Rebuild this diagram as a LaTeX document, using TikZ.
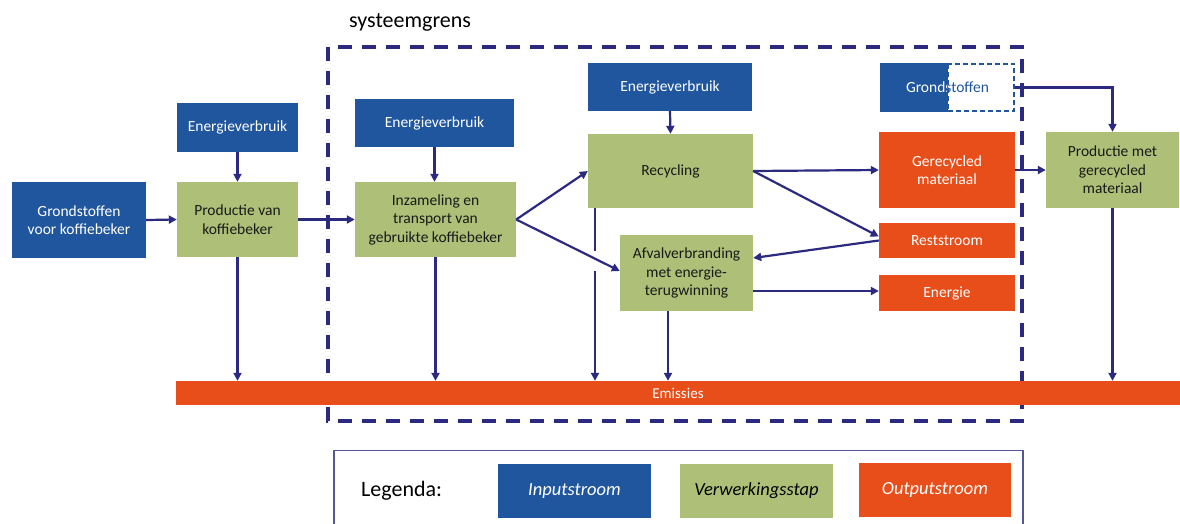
\documentclass[tikz,border=0pt]{standalone}
\usepackage{fontspec}
\setmainfont{Carlito}
\usetikzlibrary{arrows.meta,calc}
\definecolor{cblue}{HTML}{1F569E}
\definecolor{cgreen}{HTML}{AEC077}
\definecolor{corange}{HTML}{E84E1A}
\definecolor{cnavy}{HTML}{2B2A80}
\pgfdeclarelayer{bg}
\pgfsetlayers{bg,main}
\begin{document}
\begin{tikzpicture}[x=1pt,y=-1pt,
  box/.style={rectangle,inner sep=0pt,align=center,font=\fontsize{15.5}{18.5}\selectfont},
  inbox/.style={box,fill=cblue,text=white},
  procbox/.style={box,fill=cgreen,text=black!90},
  outbox/.style={box,fill=corange,text=white},
  flow/.style={draw=cnavy,line width=2.2pt,-{Triangle[length=8pt,width=8pt]}},
  plain/.style={draw=cnavy,line width=2.2pt},
  legbox/.style={rectangle,inner sep=0pt,minimum width=153pt,minimum height=54pt,font=\fontsize{18.5}{22}\selectfont\itshape}]
\useasboundingbox (0,0) rectangle (1180,523);

% nodes
\node[inbox,minimum width=134pt,minimum height=76pt] (g1) at (79,220) {Grondstoffen\\voor koffiebeker};
\node[inbox,minimum width=121pt,minimum height=49pt] (e1) at (237.5,127.5) {Energieverbruik};
\node[procbox,minimum width=121pt,minimum height=75pt] (p1) at (237.5,219.5) {Productie van\\koffiebeker};
\node[inbox,minimum width=159pt,minimum height=48pt] (e2) at (434.5,123) {Energieverbruik};
\node[procbox,minimum width=161pt,minimum height=75pt] (inz) at (435.5,219.5) {Inzameling en\\transport van\\gebruikte koffiebeker};
\node[inbox,minimum width=164pt,minimum height=48pt] (e3) at (670,87) {Energieverbruik};
\node[procbox,minimum width=165pt,minimum height=74pt] (rec) at (670.5,171) {Recycling};
\node[procbox,minimum width=133pt,minimum height=76pt] (afv) at (686.5,273) {Afvalverbranding\\met energie-\\terugwinning};
\node[box,minimum width=135pt,minimum height=49pt] (gs) at (947.5,87.5) {};
\node[outbox,minimum width=136pt,minimum height=76pt] (ger) at (947,170) {Gerecycled\\materiaal};
\node[outbox,minimum width=136pt,minimum height=35pt] (rest) at (947,240.5) {Reststroom};
\node[outbox,minimum width=136pt,minimum height=36pt] (ener) at (947,293) {Energie};
\node[procbox,minimum width=133pt,minimum height=76pt] (pm) at (1112.5,170) {Productie met\\gerecycled\\materiaal};
\node[outbox,minimum width=1004pt,minimum height=24pt,font=\fontsize{15}{17}\selectfont] (em) at (678,393) {Emissies};

% Grondstoffen half box
\fill[cblue] (gs.north west) rectangle (gs.south);
\draw[cblue,line width=2pt,dash pattern=on 5pt off 3pt] ([yshift=-1pt]gs.north) rectangle ([xshift=-1pt,yshift=1pt]gs.south east);
\begin{scope}
  \clip (gs.north west) rectangle (gs.south);
  \node[box,text=white] at (gs) {Grondstoffen};
\end{scope}
\begin{scope}
  \clip (gs.north) rectangle (gs.south east);
  \node[box,text=cblue] at (gs) {Grondstoffen};
\end{scope}

% system boundary
\begin{pgfonlayer}{bg}
\draw[cnavy,line width=3.2pt,dash pattern=on 14pt off 10pt] (328,47) rectangle (1022,421);
\end{pgfonlayer}
\node[anchor=west,font=\fontsize{22}{26}\selectfont,inner sep=0pt] (sg) at (349,22) {systeemgrens};

% flows
\path[flow] (g1.east) -- (p1.west);
\path[flow] (e1.south) -- (p1.north);
\path[flow] (p1.east) -- (inz.west);
\path[flow] (e2.south) -- (e2.south |- inz.north);
\path[flow] (inz.east) -- (rec.west);
\path[flow] (inz.east) -- ([yshift=2pt]afv.west);
\path[flow] (e3.south) -- (rec.north);
\path[flow] (rec.east) -- (ger.west);
\path[flow] (rec.east) -- ([yshift=4pt]rest.west);
\path[flow] (rest.west) -- ([yshift=15pt]afv.east);
\path[flow] ([yshift=-18pt]afv.east) -- ([yshift=-18pt]afv.east -| ener.west);
\path[flow] (ger.east) -- (pm.west);
\path[flow] (gs.east) -| (pm.north);

% to emissions
\path[flow] (p1.south) -- (p1.south |- em.north);
\path[flow] (inz.south) -- (inz.south |- em.north);
\coordinate (jt) at (595,251);
\coordinate (jb) at (595,271);
\path[plain] ([xshift=-75.5pt]rec.south) -- (jt);
\path[flow] (jb) -- (jb |- em.north);
\path[flow] ([xshift=-18.5pt]afv.south) -- ([xshift=-18.5pt]afv.south |- em.north);
\path[flow] (pm.south) -- (pm.south |- em.north);

% legend
\draw[cnavy!80,line width=1.4pt] (334,530) -- (334,450.5) -- (1023,450.5) -- (1023,530);
\node[anchor=west,font=\fontsize{22}{26}\selectfont,inner sep=0pt] (leg) at (361,491) {Legenda:};
\node[legbox,fill=cblue,text=white] (li) at (574.5,491) {Inputstroom};
\node[legbox,fill=cgreen,text=black] (lv) at (756.5,491) {Verwerkingsstap};
\node[legbox,fill=corange,text=white,minimum width=152pt] (lo) at (935,490) {Outputstroom};
\end{tikzpicture}
\end{document}
